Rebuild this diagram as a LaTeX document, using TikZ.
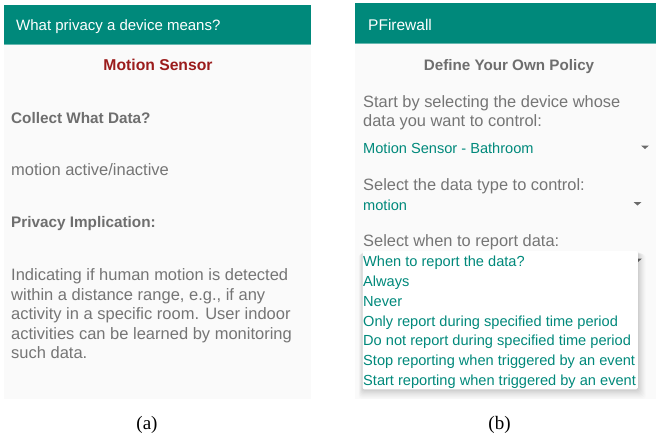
\documentclass[tikz,border=0pt]{standalone}
\usepackage{fontspec}
\setmainfont{Liberation Sans}
\newfontfamily\capfont{Liberation Serif}
\definecolor{hdr}{HTML}{00897B}
\definecolor{tealtxt}{HTML}{00897B}
\definecolor{darkred}{HTML}{9B1C1C}
\definecolor{graytxt}{HTML}{757575}
\definecolor{boldgray}{HTML}{6E6E6E}
\definecolor{panelbg}{HTML}{FAFAFA}
\definecolor{arrowgray}{HTML}{6A6A6A}
\tikzset{
  panel/.style={fill=panelbg, draw=none},
  header/.style={fill=hdr, draw=none},
  hdrtext/.style={anchor=base west, inner sep=0pt, text=white, font=\fontsize{15}{15}\selectfont},
  bodytext/.style={anchor=base west, inner sep=0pt, text=graytxt, font=\fontsize{16.5}{16.5}\selectfont},
  boldtext/.style={anchor=base west, inner sep=0pt, text=boldgray, font=\fontsize{15.3}{15.3}\selectfont\bfseries},
  tealitem/.style={anchor=base west, inner sep=0pt, text=tealtxt, font=\fontsize{14.6}{14.6}\selectfont},
  captext/.style={anchor=base, inner sep=0pt, text=black, font=\fontsize{19}{19}\selectfont\capfont},
  droparrow/.style={fill=arrowgray, draw=none},
}
\begin{document}
\begin{tikzpicture}[x=1pt,y=-1pt]
\useasboundingbox (0,0) rectangle (656,437);
\fill[white] (0,0) rectangle (656,437);
% ---------- left panel ----------
\fill[panel] (4,5) rectangle (311,399);
\fill[header] (4,5) rectangle (311,44);
\fill[hdr!60!white] (4,44) rectangle (311,45);
\node[hdrtext] (lhead) at (16,30.5) {What privacy a device means?};
\node[anchor=base, inner sep=0pt, text=darkred, font=\fontsize{15.7}{15.7}\selectfont\bfseries] (msensor) at (158,70.5) {Motion Sensor};
\node[boldtext] (collect) at (11,123) {Collect What Data?};
\node[bodytext] (motionai) at (11,175) {motion active/inactive};
\node[boldtext] (privimp) at (11,227) {Privacy Implication:};
\node[bodytext] (p1) at (11,280.5) {Indicating if human motion is detected};
\node[bodytext] (p2) at (11,300.1) {within a distance range, e.g., if any};
\node[bodytext] (p3) at (11,319.7) {activity in a specific room. User indoor};
\node[bodytext] (p4) at (11,339.3) {activities can be learned by monitoring};
\node[bodytext] (p5) at (11,358.9) {such data.};
\node[captext] (capa) at (147,429) {(a)};
% ---------- right panel ----------
\fill[panel] (355,3) rectangle (656,399);
\fill[header] (355,3) rectangle (656,43);
\fill[hdr!60!white] (355,43) rectangle (656,44);
\node[hdrtext, font=\fontsize{15.5}{15.5}\selectfont] (rhead) at (368,30) {PFirewall};
\node[anchor=base, inner sep=0pt, text=boldgray, font=\fontsize{15.2}{15.2}\selectfont\bfseries] (define) at (509,70) {Define Your Own Policy};
\node[bodytext, font=\fontsize{16.4}{16.4}\selectfont] (start1) at (363,107) {Start by selecting the device whose};
\node[bodytext, font=\fontsize{16.4}{16.4}\selectfont] (start2) at (363,126) {data you want to control:};
\node[tealitem] (devsel) at (363,153) {Motion Sensor - Bathroom};
\fill[droparrow] (641,145.5) -- (649,145.5) -- (645,149) -- cycle;
\node[bodytext, font=\fontsize{16.4}{16.4}\selectfont] (seltype) at (363,190) {Select the data type to control:};
\node[tealitem] (motionsel) at (363,210) {motion};
\fill[droparrow] (633.5,202) -- (641.5,202) -- (637.5,205.5) -- cycle;
\node[bodytext, font=\fontsize{16.4}{16.4}\selectfont] (selwhen) at (363,246.7) {Select when to report data:};
\fill[droparrow] (634,258.5) -- (642,258.5) -- (638,262) -- cycle;
% popup shadow
\foreach \i/\o in {8/0.012,7/0.015,6/0.018,5/0.02,4/0.022,3/0.025,2/0.028,1/0.03}{
  \fill[black, opacity=\o, rounded corners=3pt] (362.5-\i*0.5,251+\i*0.4) rectangle (637.8+\i,389.3+\i*1.2);
}
\fill[white, rounded corners=1.5pt] (362.5,251) rectangle (637.8,389.3);
\node[tealitem] (o0) at (363,266.6) {When to report the data?};
\node[tealitem] (o1) at (363,286.4) {Always};
\node[tealitem] (o2) at (363,306.2) {Never};
\node[tealitem] (o3) at (363,326.0) {Only report during specified time period};
\node[tealitem] (o4) at (363,345.8) {Do not report during specified time period};
\node[tealitem] (o5) at (363,365.6) {Stop reporting when triggered by an event};
\node[tealitem] (o6) at (363,385.4) {Start reporting when triggered by an event};
\node[captext] (capb) at (499.5,429) {(b)};
\end{tikzpicture}
\end{document}
